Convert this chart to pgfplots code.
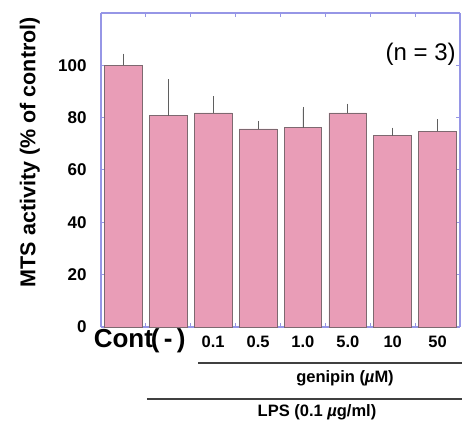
\documentclass[border=0pt]{standalone}
\usepackage{fontspec}
\setmainfont{Liberation Sans}
\usepackage{pgfplots}
\pgfplotsset{compat=1.18}
\definecolor{barpink}{RGB}{233,157,183}
\definecolor{baredge}{RGB}{125,105,112}
\definecolor{frameblue}{RGB}{150,150,230}
\definecolor{errc}{RGB}{95,95,95}

\begin{document}
\begin{tikzpicture}
  \begin{axis}[scale only axis, width=359pt, height=314pt,
    at={(0,0)}, anchor=south west,
    xmin=-0.5, xmax=7.5, ymin=0, ymax=120,
    separate axis lines,
    every outer x axis line/.append style={draw=frameblue, line width=1.2pt},
    every outer y axis line/.append style={draw=frameblue, line width=1.2pt},
    axis line style={draw=frameblue, line width=1.2pt, -},
    ytick={0,20,...,100},
    yticklabel style={font=\fontsize{17}{17}\selectfont\bfseries, xshift=-11pt},
    /pgf/number format/assume math mode=true,
    xtick={0,...,7},
    xticklabels={\fontsize{26}{26}\selectfont Cont, \fontsize{26}{26}\selectfont(\,-\,), 0.1, 0.5, 1.0, 5.0, 10, 50},
    xticklabel style={font=\fontsize{16.5}{16.5}\selectfont\bfseries, anchor=base, yshift=-21pt},
    major x tick style={draw=none},
    minor xtick={0.5,1.5,...,6.5},
    minor tick length=4pt, major tick length=4pt,
    tick style={draw=frameblue, line width=1pt},
    tick align=inside,
    ylabel={\bfseries MTS activity (\% of control)},
    ylabel style={font=\fontsize{21.5}{21.5}\selectfont, at={(axis description cs:-0.198,0.557)}, anchor=center},
    clip=false]
    \addplot[ybar, bar width=0.84, bar shift=0pt, fill=barpink, draw=baredge, line width=0.7pt,
      error bars/.cd, y dir=plus, y explicit,
      error bar style={errc, line width=0.7pt},
      error mark options={errc, line width=0.7pt, mark size=2pt}]
      coordinates {
        (0,100) +- (0,3.7)
        (1,80.8) +- (0,13.2)
        (2,81.8) +- (0,5.7)
        (3,75.7) +- (0,2.3)
        (4,76.2) +- (0,7.2)
        (5,81.8) +- (0,2.8)
        (6,73.1) +- (0,2.3)
        (7,74.8) +- (0,3.8)
      };
    \node[anchor=east, font=\fontsize{24}{24}\selectfont] at (rel axis cs:0.998,0.87) {(n = 3)};
  \end{axis}
  \draw[line width=1.4pt, black!75] (97pt,-36pt) -- (361pt,-36pt);
  \node[font=\fontsize{16.5}{16.5}\selectfont\bfseries] at (244pt,-51pt) {genipin (\textit{µ}M)};
  \draw[line width=1.4pt, black!75] (46pt,-72pt) -- (361pt,-72pt);
  \node[font=\fontsize{16.5}{16.5}\selectfont\bfseries] at (216pt,-85pt) {LPS (0.1 \textit{µ}g/ml)};
  \path[use as bounding box] (-101pt,-96pt) rectangle (363pt,327pt);
\end{tikzpicture}
\end{document}
